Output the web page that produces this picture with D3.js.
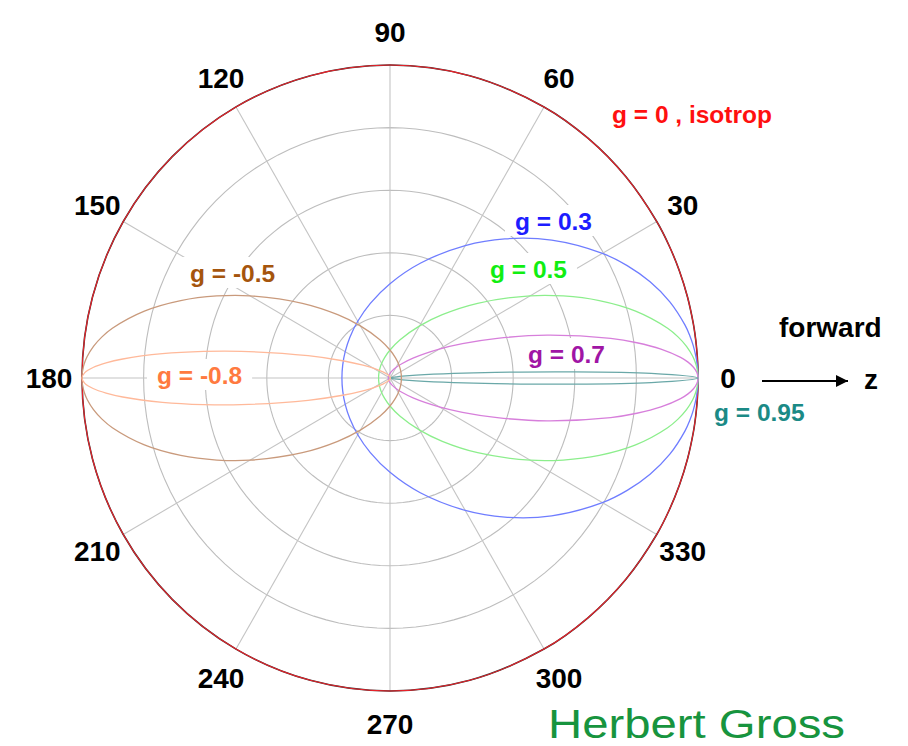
<!DOCTYPE html>
<html>
<head>
<meta charset="utf-8">
<script src="https://cdn.jsdelivr.net/npm/d3@7"></script>
<style>
  html, body { margin: 0; padding: 0; background: #fff; }
  svg { display: block; }
</style>
</head>
<body>
<svg id="chart" width="908" height="746"></svg>
<script>
// ---------------- DATA ----------------
// scattering angle (degrees) for forward-peaked curves
const anglesFwd = [0, 1, 2, 3, 4, 6, 8, 10, 15, 20, 25, 30, 40, 50, 60, 75, 90, 105, 120, 135, 150, 165, 180];
// scattering angle (degrees) for backward-peaked curves
const anglesBwd = [180, 179, 178, 177, 176, 174, 172, 170, 165, 160, 155, 150, 140, 130, 120, 105, 90, 75, 60, 45, 30, 15, 0];

// normalised radius
const r_g0    = [1, 1, 1, 1, 1, 1, 1, 1, 1, 1, 1, 1, 1, 1, 1, 1, 1, 1, 1, 1, 1, 1, 1];
const r_g03   = [1, .9997, .9989, .9975, .9955, .9900, .9824, .9727, .9406, .8986, .8497, .7963, .6853, .5803, .4885, .3796, .3014, .2468, .2093, .1841, .1680, .1590, .1561];
const r_g05   = [1, .9991, .9964, .9918, .9856, .9680, .9443, .9153, .8256, .7231, .6204, .5254, .3713, .2642, .1925, .1267, .0894, .0674, .0540, .0457, .0406, .0379, .0370];
const r_g07   = [1, .9965, .9860, .9689, .9458, .8846, .8094, .7275, .5284, .3706, .2596, .1846, .1001, .0596, .0385, .0226, .0149, .0107, .0083, .0069, .0061, .0056, .0055];
const r_g095  = [1, .8487, .5652, .3429, .2077, .0852, .0411, .0225, .0072, .0031, .0016, .0010, .0004, .0002, .0001, .0001, 0, 0, 0, 0, 0, 0, 0];
const r_gm05  = [1, .9991, .9964, .9918, .9856, .9680, .9443, .9153, .8256, .7231, .6204, .5254, .3713, .2642, .1925, .1267, .0894, .0674, .0540, .0457, .0406, .0379, .0370];
const r_gm08  = [1, .9910, .9646, .9231, .8698, .7429, .6107, .4906, .2753, .1587, .0967, .0624, .0300, .0167, .0104, .0059, .0038, .0027, .0021, .0017, .0015, .0014, .0014];

const seriesNames = ["g = 0 , isotrop", "g = 0.3", "g = 0.5", "g = 0.7", "g = 0.95", "g = -0.5", "g = -0.8"];

// angular tick labels
const angleTicks = [0, 30, 60, 90, 120, 150, 180, 210, 240, 270, 300, 330];
const angleTickLabels = ["0", "30", "60", "90", "120", "150", "180", "210", "240", "270", "300", "330"];
// radial grid rings
const ringTicks = [0.2, 0.4, 0.6, 0.8];

// ---------------- LAYOUT / STYLE ----------------
const cx = 390, cy = 378, Rx = 308, Ry = 313;
const x = d3.scaleLinear().domain([-1, 1]).range([cx - Rx, cx + Rx]);
const y = d3.scaleLinear().domain([-1, 1]).range([cy + Ry, cy - Ry]);
const rad = d => d * Math.PI / 180;

const series = [
  { name: seriesNames[0], ang: anglesFwd, r: r_g0,   line: "#e8222a", text: "#ff1010", lx: 612, ly: 123 },
  { name: seriesNames[1], ang: anglesFwd, r: r_g03,  line: "#6f7dff", text: "#1d1dff", lx: 515, ly: 230 },
  { name: seriesNames[2], ang: anglesFwd, r: r_g05,  line: "#8cee8c", text: "#11ee11", lx: 490, ly: 278 },
  { name: seriesNames[3], ang: anglesFwd, r: r_g07,  line: "#d77fdb", text: "#a015a5", lx: 528, ly: 363 },
  { name: seriesNames[4], ang: anglesFwd, r: r_g095, line: "#6aa8a8", text: "#1b8a86", lx: 714, ly: 421 },
  { name: seriesNames[5], ang: anglesBwd, r: r_gm05, line: "#c99a7c", text: "#a5550d", lx: 190, ly: 282 },
  { name: seriesNames[6], ang: anglesBwd, r: r_gm08, line: "#ffb99a", text: "#ff7a40", lx: 157, ly: 384 }
];

const svg = d3.select("#chart");
const font = "'Liberation Sans', Arial, Helvetica, sans-serif";

// ---------------- GRID ----------------
const grid = svg.append("g");
const ringPts = d3.range(0, 361, 3);
const ringLine = d3.line().x(p => p[0]).y(p => p[1]);
ringTicks.forEach(t => {
  grid.append("path")
    .attr("d", ringLine(ringPts.map(a => [x(t * Math.cos(rad(a))), y(t * Math.sin(rad(a)))])))
    .attr("fill", "none").attr("stroke", "#bdbdbd").attr("stroke-width", 1.1);
});
angleTicks.forEach(a => {
  grid.append("line")
    .attr("x1", x(0)).attr("y1", y(0))
    .attr("x2", x(Math.cos(rad(a)))).attr("y2", y(Math.sin(rad(a))))
    .attr("stroke", "#c4c4c4").attr("stroke-width", 1.1);
});

// ---------------- LABELS + BACKGROUNDS (cover grid) ----------------
const bgG = svg.append("g");
const curveG = svg.append("g");
const labelG = svg.append("g");
const labelNodes = series.map(s => labelG.append("text")
  .attr("x", s.lx).attr("y", s.ly)
  .attr("font-family", font).attr("font-weight", "bold").attr("font-size", 24.5)
  .attr("fill", s.text).text(s.name));
labelNodes.forEach((n, i) => {
  if (i === 0 || i === 4) return;
  const b = n.node().getBBox();
  bgG.append("rect")
    .attr("x", b.x - 10).attr("y", b.y - 3).attr("width", b.width + 20).attr("height", b.height + 4)
    .attr("fill", "#fff");
});

// ---------------- CURVES ----------------
const line = d3.line().x(p => p[0]).y(p => p[1]).curve(d3.curveCatmullRomClosed.alpha(0.5));
series.forEach((s, i) => {
  const upper = s.ang.map((a, k) => [x(s.r[k] * Math.cos(rad(a))), y(s.r[k] * Math.sin(rad(a)))]);
  const lower = s.ang.slice(1, -1).reverse().map((a, k0) => {
    const k = s.ang.length - 2 - k0;
    return [x(s.r[k] * Math.cos(rad(-a))), y(s.r[k] * Math.sin(rad(-a)))];
  });
  const pts = upper.concat(lower);
  if (i === 0) {
    curveG.append("path").attr("d", line(pts)).attr("fill", "none")
      .attr("stroke", "#333").attr("stroke-width", 1.6);
  }
  curveG.append("path").attr("d", line(pts)).attr("fill", "none")
    .attr("stroke", s.line).attr("stroke-width", i === 0 ? 1.1 : 1.3);
});

// ---------------- ANGLE LABELS ----------------
const Lx = 338, Ly = 346;
angleTicks.forEach((a, i) => {
  svg.append("text")
    .attr("x", cx + Lx * Math.cos(rad(a)) + (a === 180 ? -3 : 0))
    .attr("y", cy - Ly * Math.sin(rad(a)))
    .attr("dy", "0.36em")
    .attr("text-anchor", "middle")
    .attr("font-family", font).attr("font-weight", "bold").attr("font-size", 28)
    .attr("fill", "#000").text(angleTickLabels[i]);
});

// ---------------- FORWARD ARROW ----------------
svg.append("defs").append("marker")
  .attr("id", "arr").attr("viewBox", "0 0 10 10").attr("refX", 10).attr("refY", 5)
  .attr("markerWidth", 7).attr("markerHeight", 6).attr("markerUnits", "strokeWidth")
  .attr("orient", "auto")
  .append("path").attr("d", "M0,0 L10,5 L0,10 Z").attr("fill", "#000");
svg.append("line").attr("x1", 762).attr("y1", 381).attr("x2", 848).attr("y2", 381)
  .attr("stroke", "#000").attr("stroke-width", 2).attr("marker-end", "url(#arr)");
svg.append("text").attr("x", 864).attr("y", 389)
  .attr("font-family", font).attr("font-weight", "bold").attr("font-size", 28).text("z");
svg.append("text").attr("x", 779).attr("y", 337)
  .attr("font-family", font).attr("font-weight", "bold").attr("font-size", 28).text("forward");

// ---------------- AUTHOR ----------------
svg.append("text").attr("x", 548).attr("y", 738)
  .attr("font-family", "'Liberation Sans', Arial, sans-serif").attr("font-weight", "normal")
  .attr("font-size", 40).attr("fill", "#17943e")
  .attr("textLength", 297).attr("lengthAdjust", "spacingAndGlyphs")
  .text("Herbert Gross");
</script>
</body>
</html>
